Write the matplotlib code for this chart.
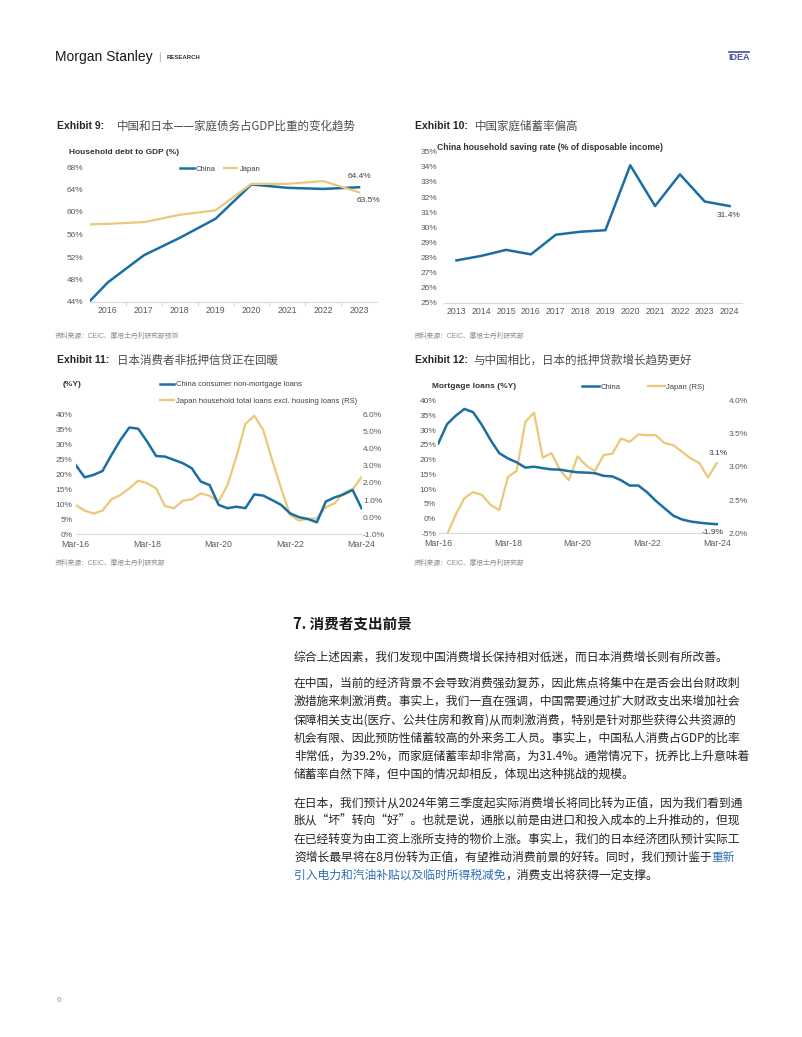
import numpy as np
import matplotlib
matplotlib.use("Agg")
import matplotlib.pyplot as plt
from matplotlib.ticker import FuncFormatter

plt.rcParams['font.family'] = ['Liberation Sans', 'Noto Sans CJK SC', 'DejaVu Sans']

W, H = 802, 1037
BLUE = '#1b6ea3'
GOLD = '#ebc877'
TICK = '#595959'
DARK = '#262626'
LINK = '#2f6db8'
CJK = ['Noto Sans CJK SC', 'DejaVu Sans']

# ---- Exhibit 9: household debt to GDP (%) ----
debt_x = [2015.5, 2016, 2017, 2018, 2019, 2020, 2021, 2022, 2023]
debt_china = [44.2, 47.5, 52.3, 55.4, 58.8, 64.9, 64.3, 64.1, 64.4]
debt_japan = [57.8, 57.9, 58.2, 59.5, 60.3, 65.0, 65.0, 65.5, 63.5]
debt_years = list(range(2016, 2024))

# ---- Exhibit 10: China household saving rate ----
save_years = list(range(2013, 2025))
save_rate = [27.8, 28.1, 28.5, 28.2, 29.5, 29.7, 29.8, 34.1, 31.4, 33.5, 31.7, 31.4]

# ---- Exhibits 11/12: quarterly, Mar-16 .. Mar-24 ----
qtr_labels = ['Mar-16', 'Mar-18', 'Mar-20', 'Mar-22', 'Mar-24']
qtr_pos = [0, 8, 16, 24, 32]
nonmort_china = [23.1, 19.0, 19.8, 21.1, 26.4, 31.4, 35.6, 35.2, 30.9, 26.1,
                 25.9, 24.8, 23.7, 22.0, 17.6, 16.4, 9.8, 8.7, 9.2, 8.7,
                 13.3, 12.9, 11.4, 9.8, 7.0, 5.7, 5.1, 4.0, 10.9, 12.3,
                 13.3, 14.8, 8.7]
nonmort_japan = [0.71, 0.38, 0.21, 0.38, 1.04, 1.29, 1.68, 2.13, 1.98, 1.68,
                 0.65, 0.52, 0.96, 1.04, 1.39, 1.24, 0.91, 1.88, 3.53, 5.44,
                 5.92, 5.08, 3.33, 1.68, 0.13, -0.20, -0.10, -0.07, 0.58, 0.81,
                 1.43, 1.63, 2.33]
mort_china = [25.5, 32.0, 34.9, 37.2, 36.1, 31.8, 26.7, 22.2, 20.4, 19.1,
              17.3, 17.6, 17.1, 16.7, 16.6, 16.1, 15.7, 15.6, 15.4, 14.5,
              14.3, 13.0, 11.2, 11.2, 8.9, 6.0, 3.5, 1.0, -0.3, -1.0,
              -1.4, -1.7, -1.9]
# Japan series starts one quarter later (Jun-16)
mort_japan = [1.98, 2.28, 2.53, 2.62, 2.58, 2.43, 2.35, 2.85, 2.94, 3.68,
              3.82, 3.14, 3.21, 2.95, 2.80, 3.16, 3.02, 2.94, 3.18, 3.20,
              3.43, 3.38, 3.49, 3.48, 3.48, 3.36, 3.33, 3.23, 3.13, 3.06,
              2.84, 3.06]

para1 = [[("综合上述因素，我们发现中国消费增长保持相对低迷，而日本消费增长则有所改善。", DARK)]]
para2 = [
    [("在中国，当前的经济背景不会导致消费强劲复苏，因此焦点将集中在是否会出台财政刺", DARK)],
    [("激措施来刺激消费。事实上，我们一直在强调，中国需要通过扩大财政支出来增加社会", DARK)],
    [("保障相关支出(医疗、公共住房和教育)从而刺激消费，特别是针对那些获得公共资源的", DARK)],
    [("机会有限、因此预防性储蓄较高的外来务工人员。事实上，中国私人消费占GDP的比率", DARK)],
    [("非常低，为39.2%，而家庭储蓄率却非常高，为31.4%。通常情况下，抚养比上升意味着", DARK)],
    [("储蓄率自然下降，但中国的情况却相反，体现出这种挑战的规模。", DARK)],
]
para3 = [
    [("在日本，我们预计从2024年第三季度起实际消费增长将同比转为正值，因为我们看到通", DARK)],
    [("胀从“坏”转向“好”。也就是说，通胀以前是由进口和投入成本的上升推动的，但现", DARK)],
    [("在已经转变为由工资上涨所支持的物价上涨。事实上，我们的日本经济团队预计实际工", DARK)],
    [("资增长最早将在8月份转为正值，有望推动消费前景的好转。同时，我们预计鉴于", DARK), ("重新", LINK)],
    [("引入电力和汽油补贴以及临时所得税减免", LINK), ("，消费支出将获得一定支撑。", DARK)],
]

fig = plt.figure(figsize=(W / 100, H / 100), dpi=100)
bg = fig.add_axes([0, 0, 1, 1])
bg.set_xlim(0, W)
bg.set_ylim(H, 0)
bg.axis('off')


def box(x0, y0, x1, y1):
    return fig.add_axes([x0 / W, 1 - y1 / H, (x1 - x0) / W, (y1 - y0) / H])


def fpt(x, y):
    return (x / W, 1 - y / H)


def style(ax, lpad, xpad=3.2):
    for s in ['top', 'right', 'left']:
        ax.spines[s].set_visible(False)
    ax.spines['bottom'].set_color('#d9d9d9')
    ax.spines['bottom'].set_linewidth(0.8)
    ax.tick_params(axis='both', length=0, labelsize=6, labelcolor=TICK)
    ax.tick_params(axis='x', labelsize=6.3)
    ax.tick_params(axis='y', pad=lpad)
    ax.tick_params(axis='x', pad=xpad)
    ax.set_facecolor('none')


pct0 = FuncFormatter(lambda v, p: f'{v:.0f}%')
pct1 = FuncFormatter(lambda v, p: f'{v:.1f}%')

# ---------------- header ----------------
bg.text(55, 57, 'Morgan Stanley', fontsize=10, color='#1a1a1a', va='center')
bg.text(158, 56.5, '|', fontsize=7, color='#9a9a9a', va='center')
bg.text(167, 57.5, 'RESEARCH', fontsize=4.3, weight='bold', color='#333333', va='center')
bg.plot([729, 749], [51.5, 51.5], color='#4b4fa0', lw=1.2)
bg.text(739, 58, 'IDEA', fontsize=6.5, weight='bold', color='#4b4fa0',
        va='center', ha='center')

# ---------------- titles ----------------
for x1, x2, y, ex, title in [
        (57, 117, 126, 'Exhibit 9:', '中国和日本——家庭债务占GDP比重的变化趋势'),
        (415, 475, 126, 'Exhibit 10:', '中国家庭储蓄率偏高'),
        (57, 117, 360, 'Exhibit 11:', '日本消费者非抵押信贷正在回暖'),
        (415, 473, 360, 'Exhibit 12:', '与中国相比，日本的抵押贷款增长趋势更好')]:
    bg.text(x1, y, ex, fontsize=7.5, weight='bold', color=DARK, va='center')
    bg.text(x2, y, title, family=CJK, fontsize=8.3, color='#4d4d4d', va='center')

for x, y, s in [(55, 336, '资料来源：CEIC、摩根士丹利研究部预测'),
                (414, 336, '资料来源：CEIC、摩根士丹利研究部'),
                (55, 563, '资料来源：CEIC、摩根士丹利研究部'),
                (414, 563, '资料来源：CEIC、摩根士丹利研究部')]:
    bg.text(x, y, s, fontsize=4.9, color='#8c8c8c', va='center')

# ---------------- Exhibit 9 ----------------
ax9 = box(90, 167, 377, 302)
style(ax9, 5)
ax9.plot(debt_x, debt_china, color=BLUE, lw=1.8, label='China')
ax9.plot(debt_x, debt_japan, color=GOLD, lw=1.6, label='Japan')
ax9.set_xlim(2015.5, 2023.5)
ax9.set_ylim(44, 68)
ax9.set_yticks(np.arange(44, 69, 4))
ax9.yaxis.set_major_formatter(pct0)
ax9.set_xticks(debt_years)
ax9.set_xticks([y + 0.5 for y in debt_years[:-1]], minor=True)
ax9.tick_params(axis='x', which='minor', length=3, color='#d9d9d9', width=0.8)
ax9.annotate(f'{debt_china[-1]:.1f}%', (debt_x[-1], debt_china[-1]), xytext=(0, 8),
             textcoords='offset points', ha='center', va='center', fontsize=6, color='#404040')
ax9.annotate(f'{debt_japan[-1]:.1f}%', (debt_x[-1], debt_japan[-1]), xytext=(6.5, -6),
             textcoords='offset points', ha='center', va='center', fontsize=6, color='#404040')
bg.text(69, 153, 'Household debt to GDP (%)', fontsize=6, weight='bold', color='#333333', va='center')
ax9.legend(loc='center left', bbox_to_anchor=fpt(180, 169), bbox_transform=fig.transFigure,
           ncol=2, frameon=False, fontsize=5.5, handlelength=1.8, handletextpad=0.3,
           columnspacing=1.0, borderpad=0, borderaxespad=0, labelcolor='#404040')

# ---------------- Exhibit 10 ----------------
ax10 = box(444, 151.7, 742, 302.7)
style(ax10, 5)
ax10.plot(save_years, save_rate, color=BLUE, lw=1.8)
ax10.set_xlim(2012.5, 2024.5)
ax10.set_ylim(25, 35)
ax10.set_yticks(range(25, 36))
ax10.yaxis.set_major_formatter(pct0)
ax10.set_xticks(save_years)
ax10.annotate(f'{save_rate[-1]:.1f}%', (save_years[-1], save_rate[-1]), xytext=(-0.7, -6.5),
              textcoords='offset points', ha='center', va='center', fontsize=6, color='#404040')
bg.text(437, 148, 'China household saving rate (% of disposable income)', fontsize=6.2,
        weight='bold', color='#333333', va='center')

# ---------------- Exhibit 11 ----------------
q = np.arange(len(nonmort_china))
ax11 = box(75.7, 414.3, 361.5, 534.3)
style(ax11, 2.4, xpad=4)
ax11.plot(q, nonmort_china, color=BLUE, lw=1.8, label='China consumer non-mortgage loans')
ax11.set_xlim(0, 32)
ax11.set_ylim(0, 40)
ax11.set_yticks(range(0, 41, 5))
ax11.yaxis.set_major_formatter(pct0)
ax11.set_xticks(qtr_pos)
ax11.set_xticklabels(qtr_labels)
r11 = ax11.twinx()
r11.plot(q, nonmort_japan, color=GOLD, lw=1.6,
         label='Japan household total loans excl. housing loans (RS)')
r11.set_ylim(-1, 6)
r11.set_yticks(range(-1, 7))
r11.yaxis.set_major_formatter(pct1)
for s in r11.spines.values():
    s.set_visible(False)
r11.tick_params(axis='y', length=0, labelsize=6, labelcolor=TICK, pad=1)
ax11.set_zorder(r11.get_zorder() + 1)
ax11.set_facecolor('none')
bg.text(63, 384, '(%Y)', fontsize=6, weight='bold', color='#333333', va='center')
h11 = ax11.get_lines() + r11.get_lines()
ax11.legend(h11, [l.get_label() for l in h11], loc='center left',
            bbox_to_anchor=fpt(160, 393), bbox_transform=fig.transFigure,
            frameon=False, fontsize=5.5, handlelength=1.8, handletextpad=0.3,
            labelspacing=1.2, borderpad=0, borderaxespad=0, labelcolor='#404040')

# ---------------- Exhibit 12 ----------------
ax12 = box(438.3, 400.7, 722, 533.3)
style(ax12, 1.5, xpad=4)
ax12.plot(q, mort_china, color=BLUE, lw=1.8, label='China')
ax12.set_xlim(0, 32.6)
ax12.set_ylim(-5, 40)
ax12.set_yticks(range(-5, 41, 5))
ax12.yaxis.set_major_formatter(pct0)
ax12.set_xticks(qtr_pos)
ax12.set_xticklabels(qtr_labels)
r12 = ax12.twinx()
qj = np.arange(1, len(mort_japan) + 1)
r12.plot(qj, mort_japan, color=GOLD, lw=1.6, label='Japan (RS)')
r12.set_ylim(2.0, 4.0)
r12.set_yticks(np.arange(2.0, 4.01, 0.5))
r12.yaxis.set_major_formatter(pct1)
for s in r12.spines.values():
    s.set_visible(False)
r12.tick_params(axis='y', length=0, labelsize=6, labelcolor=TICK, pad=5)
ax12.set_zorder(r12.get_zorder() + 1)
ax12.set_facecolor('none')
ax12.annotate(f'{mort_china[-1]:.1f}%', (q[-1], mort_china[-1]), xytext=(-3, -6),
              textcoords='offset points', ha='center', va='center', fontsize=6, color='#404040')
r12.annotate(f'{mort_japan[-1]:.1f}%', (qj[-1], mort_japan[-1]), xytext=(1, 6.5),
             textcoords='offset points', ha='center', va='center', fontsize=6, color='#404040')
bg.text(432, 387, 'Mortgage loans (%Y)', fontsize=6, weight='bold', color='#333333', va='center')
h12 = ax12.get_lines() + r12.get_lines()
ax12.legend(h12, [l.get_label() for l in h12], loc='center left', ncol=2,
            bbox_to_anchor=fpt(582, 387), bbox_transform=fig.transFigure,
            frameon=False, fontsize=5.5, handlelength=2.2, handletextpad=0.2,
            columnspacing=3.6, borderpad=0, borderaxespad=0, labelcolor='#404040')

# ---------------- body text ----------------
bg.text(293, 624, '7. 消费者支出前景', family=CJK, fontsize=10.5, weight='bold',
        color='#1a1a1a', va='center')


def write_lines(lines, y0, step=18.3, x0=294):
    for i, segs in enumerate(lines):
        y = y0 + i * step
        prev = None
        for s, c in segs:
            if prev is None:
                prev = bg.text(x0, y, s, family=CJK, fontsize=8.5, color=c, va='center')
            else:
                prev = bg.annotate(s, xy=(1, 0), xycoords=prev, va='bottom', ha='left',
                                   family=CJK, fontsize=8.5, color=c)


write_lines(para1, 657)
write_lines(para2, 683)
write_lines(para3, 803, step=18.1)

bg.text(57, 1000, '6', fontsize=6, color='#9a9a9a', va='center')

fig.savefig('out.png', dpi=100)
